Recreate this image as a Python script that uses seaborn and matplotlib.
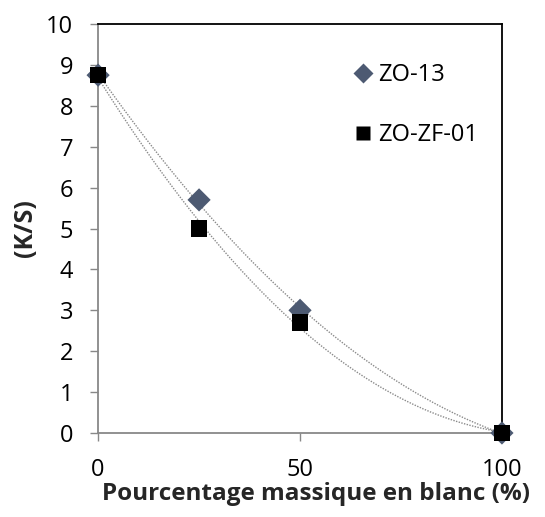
import matplotlib
matplotlib.use('Agg')
import matplotlib.pyplot as plt
import seaborn as sns
import numpy as np
import pandas as pd

pourcentage = [0, 25, 50, 100]
zo13 = [8.75, 5.7, 3.0, 0.0]
zozf01 = [8.75, 5.0, 2.7, 0.0]

sns.set_theme(style='white', rc={
    'xtick.bottom': True, 'ytick.left': True,
    'xtick.direction': 'out', 'ytick.direction': 'out',
    'xtick.major.size': 6, 'ytick.major.size': 6,
    'xtick.major.width': 1, 'ytick.major.width': 1,
    'xtick.major.pad': 12, 'ytick.major.pad': 12,
    'xtick.labelsize': 17, 'ytick.labelsize': 17,
    'xtick.color': '#888888', 'ytick.color': '#888888',
    'xtick.labelcolor': 'black', 'ytick.labelcolor': 'black',
    'text.color': 'black',
})
plt.rcParams['font.family'] = ['Open Sans', 'DejaVu Sans']

fig = plt.figure(figsize=(5.45, 5.17), dpi=100)
ax = fig.add_axes([0.18, 0.1625, 0.741, 0.791])

# courbes de tendance polynomiales (ordre 2)
xs = np.linspace(0, 100, 200)
for vals in (zo13, zozf01):
    coef = np.polyfit(pourcentage, vals, 2)
    ax.plot(xs, np.polyval(coef, xs), color='#8a8a8a', lw=1.0, ls=(0, (1, 1)), zorder=1)

df = pd.DataFrame({'x': pourcentage * 2,
                   'y': zo13 + zozf01,
                   'serie': ['ZO-13'] * 4 + ['ZO-ZF-01'] * 4})
sns.scatterplot(data=df, x='x', y='y', hue='serie', style='serie',
                palette={'ZO-13': '#4d5a72', 'ZO-ZF-01': 'black'},
                markers={'ZO-13': 'D', 'ZO-ZF-01': 's'},
                s=140, edgecolor='none', ax=ax, zorder=3, clip_on=False)

ax.set_xlim(0, 100)
ax.set_ylim(0, 10)
ax.set_xticks([0, 50, 100])
ax.set_yticks(range(0, 11))
for side in ('left', 'bottom'):
    ax.spines[side].set_color('#888888')
    ax.spines[side].set_linewidth(1.3)
for side in ('top', 'right'):
    ax.spines[side].set_color('black')
    ax.spines[side].set_linewidth(1.3)

ax.set_xlabel('Pourcentage massique en blanc (%)', fontsize=17.5, fontweight='bold', labelpad=0)
ax.xaxis.label.set_x(0.54)
ax.set_ylabel('(K/S)', fontsize=18, fontweight='bold', labelpad=6)

leg = ax.legend(loc='upper left', bbox_to_anchor=(0.565, 0.957), frameon=False,
                fontsize=17, handletextpad=0.0, handlelength=1.3,
                labelspacing=1.55, markerscale=0.9)

fig.savefig('out.png', dpi=100)
